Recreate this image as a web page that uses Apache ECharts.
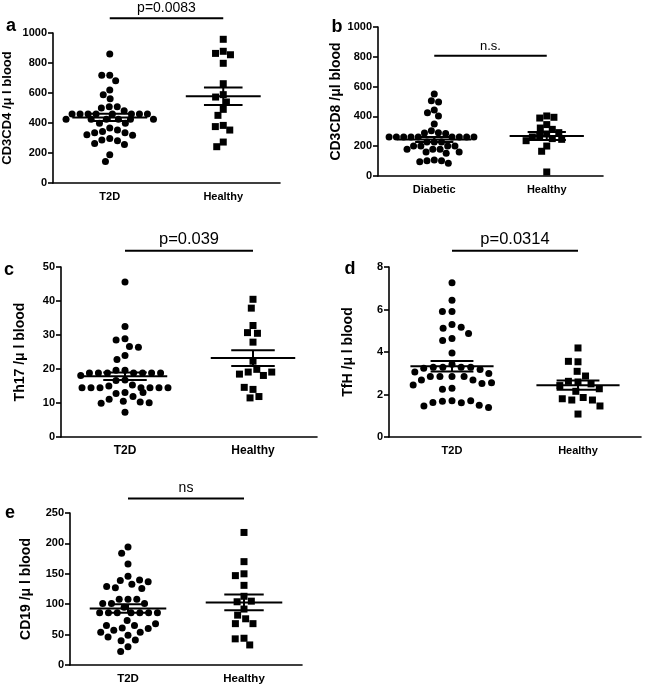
<!DOCTYPE html>
<html><head><meta charset="utf-8">
<script src="https://cdn.jsdelivr.net/npm/echarts@6/dist/echarts.min.js"></script>
<style>html,body{margin:0;padding:0;background:#fff}#c{width:645px;height:686px}</style>
</head><body><div id="c"></div>
<script>
// ---- categories ----
const catsT2D = ['T2D', 'Healthy'];
const catsDia = ['Diabetic', 'Healthy'];
const panelLetters = ['a', 'b', 'c', 'd', 'e'];
const yNames = ['CD3CD4 /\u03bc l blood', 'CD3CD8 /\u03bcl blood', 'Th17 /\u03bc l blood', 'TfH /\u03bc l blood', 'CD19 /\u03bc l blood'];
const sigTexts = ['p=0.0083', 'n.s.', 'p=0.039', 'p=0.0314', 'ns'];
const sigLevels = [1098, 807, 54.8, 8.77, 274];
const yMax = [1000, 1000, 50, 8, 250];
const yInterval = [200, 200, 10, 2, 50];

// ---- panel a: CD3CD4 ----
const cd4T2D = [860, 718, 718, 682, 620, 589, 562, 509, 509, 500, 482, 460, 460, 460, 460, 460, 460, 460, 460, 425, 425, 425, 425, 425, 425, 398, 398, 367, 353, 344, 335, 335, 322, 318, 296, 287, 282, 264, 256, 189, 144];
const cd4Healthy = [958, 878, 864, 855, 798, 662, 589, 573, 540, 491, 451, 384, 376, 353, 273, 242];
const cd4Mean = [437, 578];
const cd4Sem = [24, 58];

// ---- panel b: CD3CD8 ----
const cd8Dia = [550, 505, 497, 443, 425, 403, 349, 304, 291, 288, 286, 262, 262, 262, 262, 262, 262, 262, 262, 262, 228, 228, 228, 201, 201, 201, 201, 180, 179, 179, 161, 161, 152, 107, 103, 103, 96, 85];
const cd8Healthy = [403, 389, 394, 345, 322, 313, 291, 282, 268, 262, 251, 246, 237, 201, 166, 27];
const cd8Mean = [245, 268];
const cd8Sem = [17, 27];

// ---- panel c: Th17 ----
const th17T2D = [45.6, 32.5, 28.9, 28.5, 26.6, 26.4, 24.0, 22.8, 19.6, 19.6, 18.8, 18.8, 18.8, 18.8, 18.8, 18.8, 18.8, 18.1, 16.8, 16.6, 15.3, 15.0, 14.5, 14.5, 14.5, 14.5, 14.5, 14.5, 14.5, 13.1, 12.8, 13.1, 11.9, 11.1, 10.5, 10.3, 10.1, 9.9, 7.3];
const th17Healthy = [40.5, 37.9, 32.8, 30.7, 30.5, 27.9, 22.3, 19.9, 19.1, 18.1, 18.5, 19.1, 14.0, 14.6, 11.5, 11.9];
const th17Mean = [17.9, 23.2];
const th17Sem = [1.1, 2.3];

// ---- panel d: TfH ----
const tfhT2D = [7.26, 6.44, 5.91, 5.91, 5.29, 5.12, 5.16, 4.87, 4.64, 4.54, 3.95, 3.42, 3.28, 3.28, 3.28, 3.28, 3.23, 3.18, 3.06, 2.99, 2.85, 2.85, 2.85, 2.85, 2.68, 2.68, 2.52, 2.55, 2.3, 2.25, 2.45, 1.71, 1.68, 1.61, 1.71, 1.62, 1.50, 1.46, 1.39];
const tfhHealthy = [4.19, 3.54, 3.56, 3.09, 2.87, 2.59, 2.62, 2.50, 2.42, 2.27, 2.15, 1.86, 1.74, 1.74, 1.80, 1.46, 1.08];
const tfhMean = [3.33, 2.44];
const tfhSem = [0.25, 0.22];

// ---- panel e: CD19 ----
const cd19T2D = [194, 184, 166, 146, 139, 133, 140, 127, 126, 129, 137, 108, 108, 108, 101, 101, 101, 95, 86, 86, 86, 86, 86, 86, 86, 73, 65, 61, 54, 49, 57, 60, 65, 68, 46, 54, 40, 41, 30, 22];
const cd19Healthy = [218, 170, 150, 147, 131, 113, 104, 105, 92, 82, 76, 68, 68, 44, 43, 33];
const cd19Mean = [93, 103];
const cd19Sem = [7, 13];

const panelCats = [catsT2D, catsDia, catsT2D, catsT2D, catsT2D];
const panelG1 = [cd4T2D, cd8Dia, th17T2D, tfhT2D, cd19T2D];
const panelG2 = [cd4Healthy, cd8Healthy, th17Healthy, tfhHealthy, cd19Healthy];
const panelMean = [cd4Mean, cd8Mean, th17Mean, tfhMean, cd19Mean];
const panelSem = [cd4Sem, cd8Sem, th17Sem, tfhSem, cd19Sem];

// ---- layout (pixels) ----
const FONT = 'Liberation Sans, Arial, Helvetica, sans-serif';
const gridsLayout = [
  {left: 52, top: 33, width: 228, height: 150},
  {left: 378, top: 27, width: 225, height: 149},
  {left: 61, top: 267, width: 256, height: 170},
  {left: 389, top: 267, width: 252, height: 170},
  {left: 70, top: 513, width: 232, height: 152}
];
const jitterMargins = [1.0, 0.3, 2.0, 2.6, 1.8];
const nameGaps = [39, 35, 34, 34, 37];
const nameSizes = [13, 14, 14, 14, 14];
const xLabelSizes = [11, 11, 12, 11, 11.5];
const sigSizes = [14, 13, 16.5, 16.5, 14];
const letterPos = [[11, 26], [337, 27], [9, 270], [350, 269], [10, 513]];

const grid = [], xAxis = [], yAxis = [], series = [];
for (let i = 0; i < 5; i++) {
  grid.push(Object.assign({containLabel: false}, gridsLayout[i]));
  xAxis.push({
    type: 'category', gridIndex: i, data: panelCats[i],
    jitter: 100, jitterOverlap: false, jitterMargin: jitterMargins[i],
    axisLine: {lineStyle: {color: '#000', width: 1.6}},
    axisTick: {alignWithLabel: true, length: 5, lineStyle: {color: '#000', width: 1.6}},
    axisLabel: {color: '#000', fontWeight: 'bold', fontSize: xLabelSizes[i], fontFamily: FONT, margin: 8},
    splitLine: {show: false}
  });
  yAxis.push({
    type: 'value', gridIndex: i, min: 0, max: yMax[i], interval: yInterval[i],
    name: yNames[i], nameLocation: 'middle', nameGap: nameGaps[i],
    nameTextStyle: {color: '#000', fontWeight: 'bold', fontSize: nameSizes[i], fontFamily: FONT},
    axisLine: {show: true, lineStyle: {color: '#000', width: 1.6}},
    axisTick: {show: true, length: 5, lineStyle: {color: '#000', width: 1.6}},
    axisLabel: {color: '#000', fontWeight: 'bold', fontSize: 11, fontFamily: FONT, margin: 6,
      formatter: v => String(v)},
    splitLine: {show: false}
  });
  series.push({
    type: 'scatter', xAxisIndex: i, yAxisIndex: i, symbol: 'circle', symbolSize: 7,
    itemStyle: {color: '#000', opacity: 1}, z: 2,
    data: panelG1[i].map(v => [0, v])
  });
  series.push({
    type: 'scatter', xAxisIndex: i, yAxisIndex: i, symbol: 'rect', symbolSize: 7,
    itemStyle: {color: '#000', opacity: 1}, z: 2,
    data: panelG2[i].map(v => [1, v])
  });
  series.push({
    type: 'custom', xAxisIndex: i, yAxisIndex: i, z: 5,
    data: panelMean[i].map((m, k) => [k, m, panelSem[i][k]]),
    renderItem: function (params, api) {
      const c = api.value(0), m = api.value(1), s = api.value(2);
      const p = api.coord([c, m]);
      const pu = api.coord([c, m + s]);
      const pl = api.coord([c, m - s]);
      const bw = api.size([1, 0])[0];
      const L = bw * 0.33, S = bw * 0.17;
      const st = {stroke: '#000', lineWidth: 2};
      return {type: 'group', children: [
        {type: 'line', shape: {x1: p[0] - L, y1: p[1], x2: p[0] + L, y2: p[1]}, style: st},
        {type: 'line', shape: {x1: p[0] - S, y1: pu[1], x2: p[0] + S, y2: pu[1]}, style: st},
        {type: 'line', shape: {x1: p[0] - S, y1: pl[1], x2: p[0] + S, y2: pl[1]}, style: st},
        {type: 'line', shape: {x1: p[0], y1: pu[1], x2: p[0], y2: pl[1]}, style: st}
      ]};
    }
  });
  const sigText = sigTexts[i], sigSize = sigSizes[i];
  series.push({
    type: 'custom', xAxisIndex: i, yAxisIndex: i, z: 5, clip: false,
    data: [[0, sigLevels[i]]],
    renderItem: function (params, api) {
      const lvl = api.value(1);
      const a = api.coord([0, lvl]);
      const b = api.coord([1, lvl]);
      return {type: 'group', children: [
        {type: 'line', shape: {x1: a[0], y1: a[1], x2: b[0], y2: b[1]}, style: {stroke: '#000', lineWidth: 2}},
        {type: 'text', x: (a[0] + b[0]) / 2, y: a[1] - 3,
         style: {text: sigText, fill: '#000', fontSize: sigSize, fontFamily: FONT, align: 'center', verticalAlign: 'bottom'}}
      ]};
    }
  });
}

const graphic = panelLetters.map((t, i) => ({
  type: 'text', x: letterPos[i][0], y: letterPos[i][1],
  style: {text: t, fill: '#000', fontSize: 18, fontWeight: 'bold', fontFamily: FONT, align: 'center', verticalAlign: 'middle'}
}));

const chart = echarts.init(document.getElementById('c'), null, {renderer: 'canvas'});
chart.setOption({animation: false, backgroundColor: '#fff', grid, xAxis, yAxis, series, graphic});
</script>
</body></html>
